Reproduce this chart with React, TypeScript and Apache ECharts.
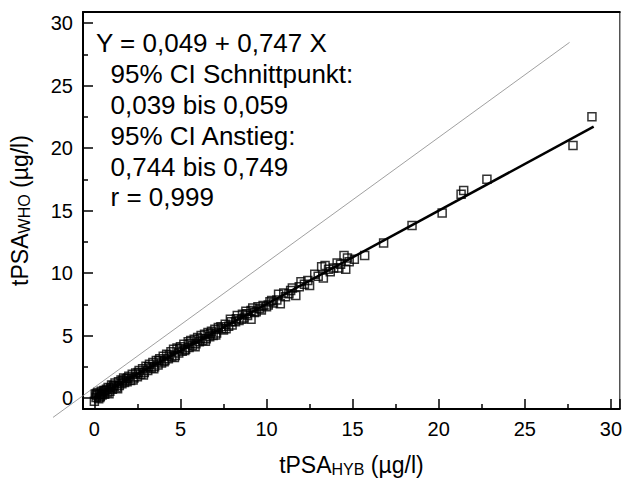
import React, { useEffect, useRef } from "react";
import * as echarts from "echarts";

// tPSA (HYB calibration) on x, tPSA (WHO calibration) on y, µg/l
const hybValues = [
  0.0, 0.05, 0.1, 0.15, 0.2, 0.25, 0.3, 0.35, 0.4, 0.45, 0.5, 0.55, 0.6, 0.7, 0.75, 0.8, 0.9, 0.95,
  1.0, 1.05, 1.15, 1.2, 1.3, 1.4, 1.45, 1.55, 1.6, 1.7, 1.75, 1.85, 1.9,
  2.0, 2.1, 2.2, 2.3, 2.4, 2.5, 2.6, 2.7, 2.8, 2.9, 3.0,
  3.1, 3.2, 3.3, 3.4, 3.5, 3.6, 3.7, 3.8, 3.9, 4.0,
  4.1, 4.2, 4.3, 4.45, 4.5, 4.6, 4.7, 4.8, 4.9, 5.0,
  5.1, 5.2, 5.3, 5.45, 5.5, 5.6, 5.7, 5.8, 5.9, 6.0,
  6.1, 6.2, 6.3, 6.4, 6.5, 6.6, 6.7, 6.8, 6.9, 7.0,
  7.1, 7.2, 7.4, 7.5, 7.6, 7.8, 7.9, 8.0, 8.2, 8.3,
  8.4, 8.6, 8.7, 8.8, 8.9, 9.1, 9.1, 9.2, 9.4, 9.5,
  9.7, 9.8, 10.0, 10.1, 10.3, 10.4, 10.7, 10.8, 11.0, 11.3,
  11.4, 11.7, 11.9, 12.0, 12.2, 12.5, 12.8, 13.0, 13.2, 13.3,
  13.4, 13.7, 13.9, 14.1, 14.3, 14.5, 14.6, 14.8, 14.7, 15.1,
  15.7, 16.8, 18.45, 20.2, 21.3, 21.45, 22.8, 27.8, 28.9,
  0.12, 0.32, 0.62, 0.85, 1.1, 1.35, 1.65, 1.95, 2.25, 2.55,
  2.85, 3.15, 3.45, 3.75, 4.05, 4.35, 4.65, 4.95, 5.25, 5.55,
  5.85, 6.15, 6.45, 6.75, 7.05, 7.35, 7.65, 7.95, 8.25, 8.55,
  8.85, 9.3, 9.6, 10.2, 10.6, 11.1, 11.5, 12.4, 13.6, 14.2,
];
const whoValues = [
  -0.25, 0.3, 0.05, 0.2, 0.45, -0.05, 0.3, 0.15, 0.55, 0.25, 0.4, 0.6, 0.3, 0.7, 0.45, 0.85, 0.55, 0.8,
  1.05, 0.7, 0.95, 1.2, 0.85, 1.3, 1.0, 1.45, 1.15, 1.6, 1.25, 1.55, 1.3,
  1.75, 1.4, 1.9, 1.6, 2.0, 1.7, 2.2, 1.9, 2.35, 2.05, 2.55,
  2.2, 2.7, 2.4, 2.85, 2.5, 3.0, 2.65, 3.15, 2.8, 3.35,
  3.0, 3.5, 3.15, 3.7, 3.3, 3.9, 3.4, 4.0, 3.6, 4.1,
  3.75, 4.3, 3.9, 4.5, 4.05, 4.6, 4.2, 4.7, 4.35, 4.85,
  4.5, 5.0, 4.6, 5.1, 4.75, 5.25, 4.9, 5.35, 5.0, 5.5,
  5.2, 5.65, 5.55, 5.45, 5.9, 5.75, 6.3, 5.85, 6.1, 6.6,
  6.2, 6.7, 6.4, 6.95, 6.6, 7.0, 6.3, 7.2, 6.9, 7.3,
  7.05, 7.4, 7.3, 7.45, 7.8, 7.6, 8.3, 7.55, 8.4, 8.35,
  8.6, 8.2, 8.9, 9.3, 9.1, 9.0, 9.9, 9.75, 10.5, 9.6,
  10.6, 10.1, 10.4, 10.8, 10.7, 11.4, 10.3, 10.9, 11.2, 11.1,
  11.4, 12.4, 13.8, 14.8, 16.3, 16.6, 17.5, 20.2, 22.5,
  0.35, 0.05, 0.6, 0.35, 1.0, 0.75, 1.4, 1.6, 1.45, 2.05,
  1.85, 2.5, 2.35, 3.0, 2.9, 3.45, 3.25, 3.95, 3.8, 4.35,
  4.1, 4.75, 4.55, 5.15, 5.05, 5.7, 5.55, 6.1, 6.35, 6.3,
  6.75, 6.85, 7.15, 7.7, 7.85, 8.1, 8.8, 9.4, 10.3, 10.4,
];

// regression line Y = 0,049 + 0,747 X (end points)
const fitX = [0, 29];
const fitY = [0.05, 21.71];
// thin reference (identity) line end points
const refX = [-2.4, 27.6];
const refY = [-1.55, 28.45];

const annotationLines = [
  "Y = 0,049 + 0,747 X",
  "95% CI Schnittpunkt:",
  "0,039 bis 0,059",
  "95% CI Anstieg:",
  "0,744 bis 0,749",
  "r = 0,999",
];

const xAxisTitle = ["tPSA", "HYB", " (µg/l)"];
const yAxisTitle = ["tPSA", "WHO", " (µg/l)"];
const xRange = [-0.66, 30.52];
const yRange = [-0.88, 30.88];

const FONT = "'Liberation Sans', Arial, Helvetica, sans-serif";

export default function App() {
  const ref = useRef<HTMLDivElement>(null);

  useEffect(() => {
    const chart = echarts.init(ref.current!, null, { renderer: "svg" });

    const labelFormatter = (v: number) =>
      Math.abs(v - Math.round(v / 5) * 5) < 1e-6 ? String(Math.round(v)) : "";

    const rich = {
      a: { fontSize: 23, fontFamily: FONT, color: "#000", lineHeight: 24, verticalAlign: "bottom" },
      b: { fontSize: 16, fontFamily: FONT, color: "#000", lineHeight: 24, verticalAlign: "bottom", padding: [0, 0, -1, 0] },
    };

    const commonAxis = (range: number[]) => ({
      type: "value",
      min: range[0],
      max: range[1],
      splitNumber: 6,
      axisLine: { show: true, onZero: false, lineStyle: { color: "#000", width: 2 } },
      axisTick: { show: true, inside: true, length: 10, lineStyle: { color: "#000", width: 1.5 } },
      minorTick: { show: true, splitNumber: 2, length: 5, lineStyle: { color: "#000", width: 1.5 } },
      splitLine: { show: false },
      axisLabel: {
        formatter: labelFormatter,
        margin: 10,
        color: "#000",
        fontSize: 20,
        fontFamily: FONT,
        showMinLabel: false,
        showMaxLabel: false,
      },
    });

    const points = hybValues.map((x, i) => [x, whoValues[i]]);

    chart.setOption({
      animation: false,
      backgroundColor: "#fff",
      grid: {
        left: 82.5,
        right: 2,
        top: 12,
        bottom: 71.5,
        show: true,
        borderColor: "#000",
        borderWidth: 1,
        containLabel: false,
      },
      xAxis: [
        {
          ...commonAxis(xRange),
          name: `{a|${xAxisTitle[0]}}{b|${xAxisTitle[1]}}{a|${xAxisTitle[2]}}`,
          nameLocation: "middle",
          nameGap: 43,
          nameTextStyle: { rich },
        },
        {
          type: "value",
          position: "top",
          min: xRange[0],
          max: xRange[1],
          axisLine: { show: true, onZero: false, lineStyle: { color: "#000", width: 2 } },
          axisTick: { show: false },
          axisLabel: { show: false },
          splitLine: { show: false },
        },
      ],
      yAxis: [
        {
          ...commonAxis(yRange),
          name: `{a|${yAxisTitle[0]}}{b|${yAxisTitle[1]}}{a|${yAxisTitle[2]}}`,
          nameLocation: "middle",
          nameGap: 52,
          nameTextStyle: { rich },
        },
      ],
      series: [
        {
          type: "custom",
          clip: false,
          silent: true,
          z: 1,
          data: [[refX[0], refY[0], refX[1], refY[1]]],
          renderItem: (params: any, api: any) => {
            const p1 = api.coord([api.value(0), api.value(1)]);
            const p2 = api.coord([api.value(2), api.value(3)]);
            return {
              type: "line",
              shape: { x1: p1[0], y1: p1[1], x2: p2[0], y2: p2[1] },
              style: { stroke: "#888", lineWidth: 0.8, fill: null },
            };
          },
        },
        {
          type: "scatter",
          data: points,
          symbol: "rect",
          symbolSize: 8,
          itemStyle: { color: "rgba(255,255,255,0)", borderColor: "#000", borderWidth: 1.5 },
          z: 2,
        },
        {
          type: "line",
          data: fitX.map((x, i) => [x, fitY[i]]),
          symbol: "none",
          lineStyle: { color: "#000", width: 2.5 },
          silent: true,
          z: 3,
        },
      ],
      graphic: annotationLines.map((t, i) => ({
        type: "text",
        x: i === 0 ? 96 : 110.5,
        y: [43, 74, 105, 136, 167, 197][i],
        style: {
          text: t,
          fontSize: 26,
          fontFamily: FONT,
          fill: "#000",
          verticalAlign: "middle",
          align: "left",
        },
        z: 10,
      })),
    });

    return () => chart.dispose();
  }, []);

  return (
    <div
      ref={ref}
      style={{ position: "absolute", left: 0, top: 0, width: 625, height: 482, background: "#fff" }}
    />
  );
}
